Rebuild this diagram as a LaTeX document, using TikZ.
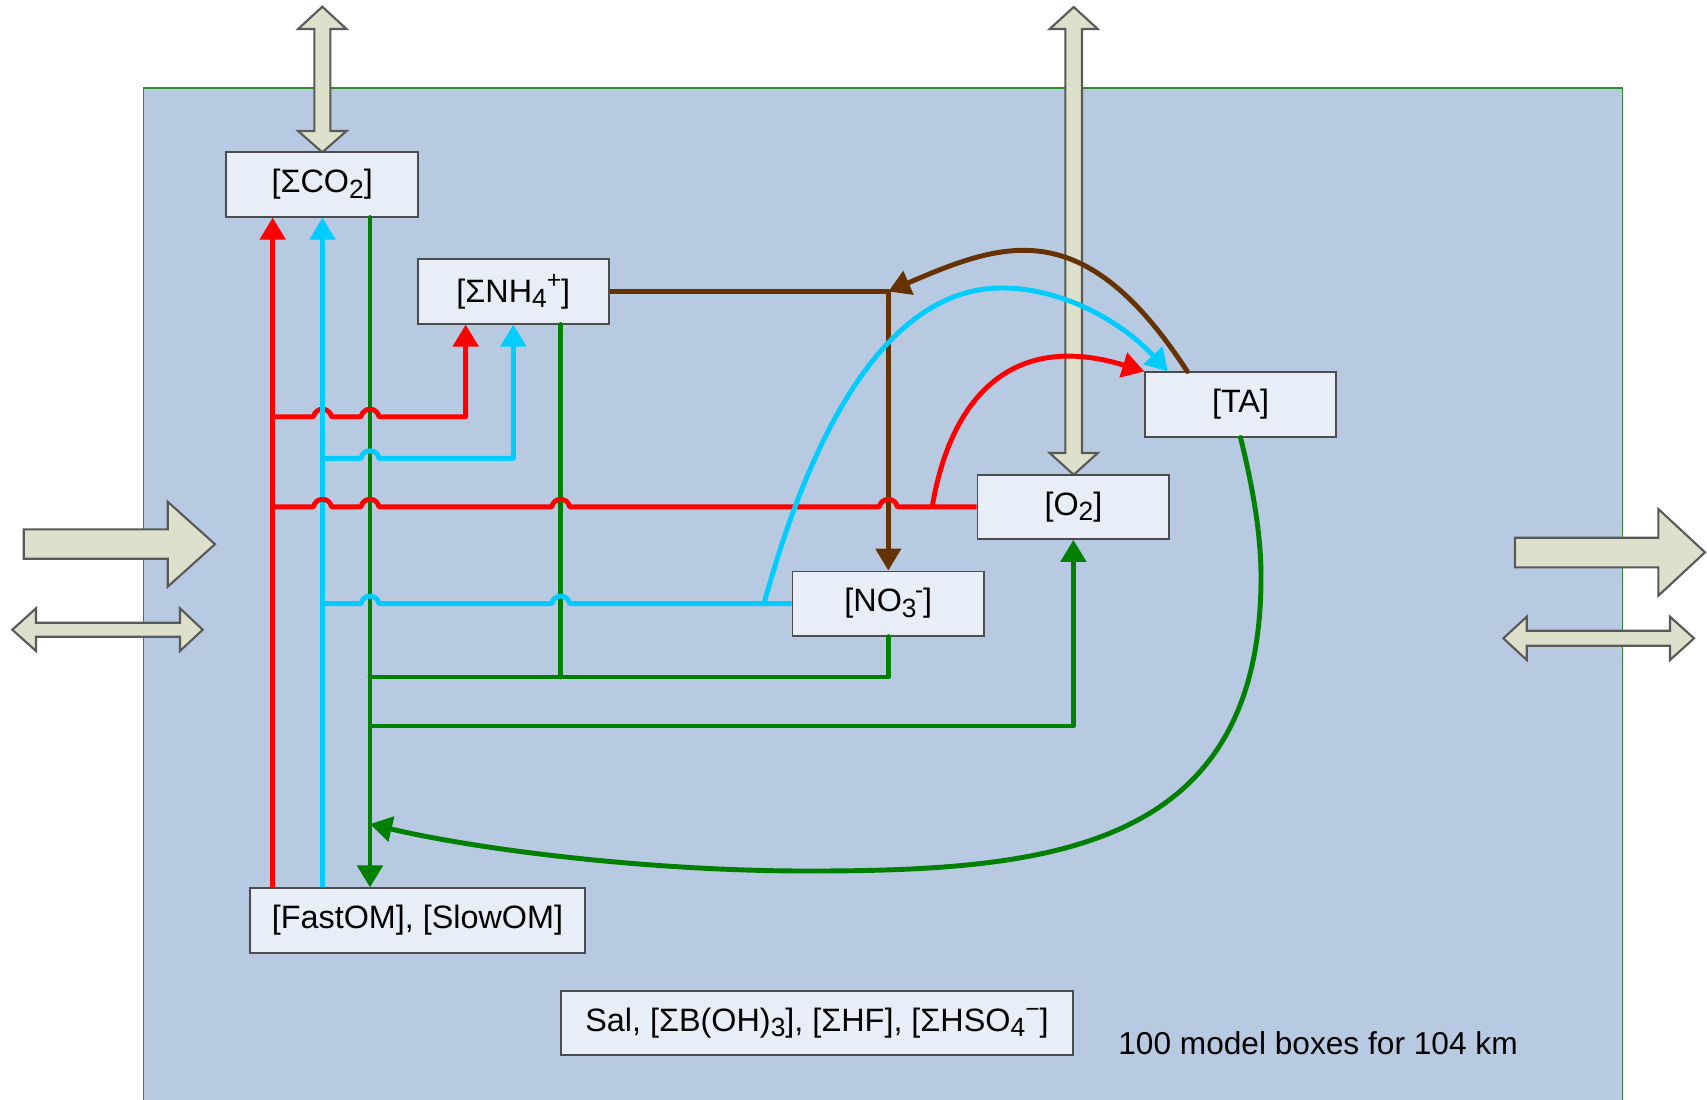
\documentclass[tikz,border=0pt]{standalone}
\usepackage{fontspec}
\setmainfont{Liberation Sans}
\usetikzlibrary{arrows.meta}
\definecolor{bgblue}{HTML}{B8C9E2}
\definecolor{boxfill}{HTML}{E8EEF8}
\definecolor{arrfill}{HTML}{DDE1CB}
\definecolor{cred}{HTML}{FF0000}
\definecolor{ccyan}{HTML}{00CCFF}
\definecolor{cgreen}{HTML}{008000}
\definecolor{cbrown}{HTML}{663300}
\definecolor{bordergreen}{HTML}{2E8B2E}
\newcommand\sbd[1]{\raisebox{-0.3ex}{\fontsize{7.5}{8}\selectfont #1}}
\newcommand\spu[1]{\raisebox{0.8ex}{\fontsize{7}{8}\selectfont #1}}
\begin{document}
\begin{tikzpicture}[x=0.01cm,y=-0.01cm,
  box/.style={draw=black!70, fill=boxfill, line width=0.5pt, inner sep=0pt,
    minimum height=0.643cm, font=\fontsize{9.2}{11}\selectfont},
  flow/.style={line width=1.4pt, line join=round},
  arrowend/.style={-{Triangle[width=0.25cm,length=0.22cm]}},
  bigarrow/.style={fill=arrfill, draw=black!65, line width=0.6pt, line join=miter},
  hopover/.style 2 args={insert path={-- (#1-9,#2) .. controls (#1-7,#2-10) and (#1+7,#2-10) .. (#1+9,#2)}}
]
\useasboundingbox (0,0) rectangle (1707,1099);
\clip (0,0) rectangle (1707,1099);
\fill[white] (0,0) rectangle (1707,1099);
\draw[fill=bgblue, draw=bordergreen, line width=0.4pt] (143.5,88) rectangle (1622.3,1130);

% big outside arrows
\draw[bigarrow] (322.3,6.7) -- (346.5,29) -- (330.3,29) -- (330.3,131) -- (346.5,131) -- (322.3,152.3)
  -- (298.1,131) -- (314.3,131) -- (314.3,29) -- (298.1,29) -- cycle;
\draw[bigarrow] (1073.7,7) -- (1097.7,29) -- (1082,29) -- (1082,453) -- (1097.7,453) -- (1073.7,474.7)
  -- (1049.7,453) -- (1065.4,453) -- (1065.4,29) -- (1049.7,29) -- cycle;
\draw[bigarrow] (23.7,529.3) -- (167.7,529.3) -- (167.7,501.7) -- (215,544.2) -- (167.7,586.7)
  -- (167.7,558.7) -- (23.7,558.7) -- cycle;
\draw[bigarrow] (12.3,629.7) -- (36,608.3) -- (36,622.7) -- (180,622.7) -- (180,608.3) -- (202.7,629.7)
  -- (180,651) -- (180,636.7) -- (36,636.7) -- (36,651) -- cycle;
\draw[bigarrow] (1515,537.7) -- (1658.3,537.7) -- (1658.3,509) -- (1705,552.3) -- (1658.3,595.7)
  -- (1658.3,567.3) -- (1515,567.3) -- cycle;
\draw[bigarrow] (1503.3,638.3) -- (1526.7,616.7) -- (1526.7,630.7) -- (1670,630.7) -- (1670,616.7) -- (1694,638.3)
  -- (1670,660) -- (1670,645.7) -- (1526.7,645.7) -- (1526.7,660) -- cycle;

% boxes
\node[box, minimum width=1.916cm] (co2) at (322.2,184.5) {[ΣCO\sbd{2}]};
\node[box, minimum width=1.906cm] (nh4) at (513.3,291.5) {[ΣNH\sbd{4}\spu{+}]};
\node[box, minimum width=1.905cm] (ta) at (1240.5,404.5) {[TA]};
\node[box, minimum width=1.916cm] (o2) at (1073.4,506.8) {[O\sbd{2}]};
\node[box, minimum width=1.916cm] (no3) at (888.3,603.6) {[NO\sbd{3}\kern-0.05em\spu{-}]};
\node[box, minimum width=3.342cm] (fom) at (417.5,920.5) {[FastOM], [SlowOM]};
\node[box, minimum width=5.12cm] (sal) at (817,1023) {Sal, [ΣB(OH)\sbd{3}], [ΣHF], [ΣHSO\sbd{4}\spu{−}]};
\node[font=\fontsize{9}{11}\selectfont] (note) at (1318,1043) {100 model boxes for 104 km};

% helper coordinates
\coordinate (xr) at (272.7,0);
\coordinate (xc) at (322.5,0);
\coordinate (xg) at (370,0);
\coordinate (xr2) at (465.7,0);
\coordinate (xc2) at (513.3,0);
\coordinate (xg2) at (560.7,0);
\coordinate (jr1) at (272.7,416.7);
\coordinate (jr2) at (272.7,506.8);
\coordinate (jc1) at (322.5,458.3);
\coordinate (jc2) at (322.5,603.6);
\coordinate (jg1) at (370,677);
\coordinate (jg2) at (370,726);
\coordinate (jg3) at (370,824);
\coordinate (jrc) at (932.2,506.8);
\coordinate (jcc) at (764,603.6);

% green trunk and branches
\draw[flow,cgreen,arrowend,line cap=round] (xg |- co2.south) -- (xg |- fom.north);
\draw[flow,cgreen,line cap=round] (xg2 |- nh4.south) -- (xg2 |- jg1);
\draw[flow,cgreen,line cap=round] (no3.south) -- (no3.south |- jg1) -- (jg1);
\draw[flow,cgreen,arrowend] (jg2) -- (jg2 -| o2.south) -- (o2.south);
\draw[flow,cgreen,arrowend,line cap=round] (ta.south) .. controls (1251,480) and (1261,530) .. (1261,577)
  .. controls (1261,850) and (1050,871) .. (808,871)
  .. controls (650,871) and (480,850) .. (jg3);

% red
\draw[flow,cred,arrowend] (xr |- fom.north) -- (xr |- co2.south);
\draw[flow,cred,arrowend] (jr1) [hopover={322.5}{416.7}] [hopover={370}{416.7}] -- (xr2 |- jr1) -- (xr2 |- nh4.south);

% cyan
\draw[flow,ccyan,arrowend] (xc |- fom.north) -- (xc |- co2.south);
\draw[flow,ccyan,arrowend] (jc1) [hopover={370}{458.3}] -- (xc2 |- jc1) -- (xc2 |- nh4.south);
\draw[flow,ccyan] (jc2) [hopover={370}{603.6}] [hopover={560.7}{603.6}] -- (no3.west);

% brown
\draw[flow,cbrown,arrowend] (nh4.east) -- (no3.north |- nh4.east) -- (no3.north);
\draw[flow,cbrown,arrowend,line cap=round] ([xshift=0.43cm]ta.north west) .. controls (1084,213) and (1005,241) .. (no3.north |- nh4.east);

% red main branch to O2 and curve to TA
\draw[flow,cred] (jr2) [hopover={322.5}{506.8}] [hopover={370}{506.8}] [hopover={560.7}{506.8}] [hopover={888.3}{506.8}] -- (o2.west);
\draw[flow,cred,arrowend] (jrc) .. controls (950,400) and (1010,330) .. (ta.north west);

% cyan curve to TA
\draw[flow,ccyan,arrowend] (jcc) .. controls (820,400) and (900,290) .. (999,288)
  .. controls (1060,287) and (1120,320) .. ([xshift=0.235cm]ta.north west);
\end{tikzpicture}
\end{document}
